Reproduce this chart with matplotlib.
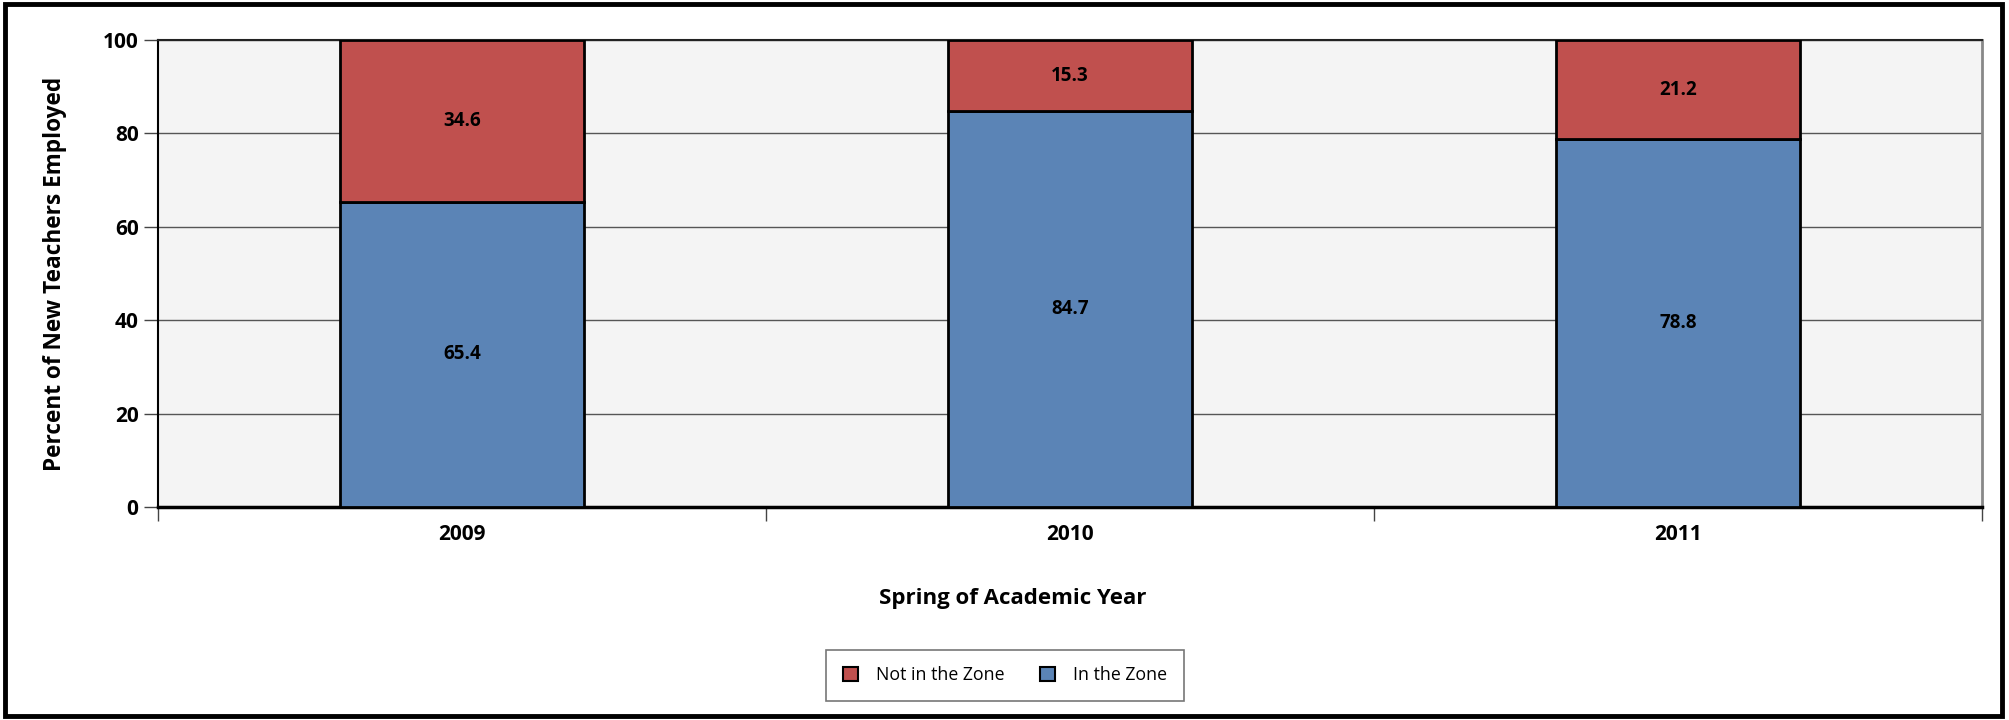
import matplotlib.pyplot as plt
from matplotlib.patches import Rectangle, Patch

# 数据
years = ['2009', '2010', '2011']
in_zone = [65.4, 84.7, 78.8]
not_in_zone = [34.6, 15.3, 21.2]

blue = '#5B84B6'
red = '#C0504E'

plt.rcParams['font.family'] = ['Open Sans', 'DejaVu Sans']

fig = plt.figure(figsize=(20.09, 7.2), dpi=100)
ax = fig.add_axes([158 / 2009, 1 - 507 / 720, 1824 / 2009, 467 / 720])
ax.set_facecolor('#F4F4F4')

x = range(len(years))
ax.bar(x, in_zone, width=0.4, color=blue, edgecolor='black', linewidth=2, zorder=3)
ax.bar(x, not_in_zone, width=0.4, bottom=in_zone, color=red, edgecolor='black', linewidth=2, zorder=3)

# 数据标签
for i in x:
    ax.text(i, in_zone[i] / 2, f'{in_zone[i]:.1f}', ha='center', va='center',
            fontsize=13.5, fontweight='bold', zorder=4)
    ax.text(i, in_zone[i] + not_in_zone[i] / 2, f'{not_in_zone[i]:.1f}', ha='center', va='center',
            fontsize=13.5, fontweight='bold', zorder=4)

ax.set_xlim(-0.5, len(years) - 0.5)
ax.set_ylim(0, 100)
ax.set_yticks([0, 20, 40, 60, 80, 100])
ax.yaxis.grid(True, color='#555555', linewidth=1, zorder=0)
ax.set_axisbelow(True)

ax.set_xticks(list(x))
ax.set_xticklabels(years, fontsize=15, fontweight='bold')
ax.tick_params(axis='x', length=0, pad=12)
ax.set_xticks([-0.5, 0.5, 1.5, 2.5], minor=True)
ax.tick_params(axis='x', which='minor', length=10, width=1, color='#444444', direction='out')
ax.tick_params(axis='y', length=10, width=1, color='#444444', labelsize=15, pad=4)
for lbl in ax.get_yticklabels():
    lbl.set_fontweight('bold')

ax.spines['left'].set_linewidth(1.5)
ax.spines['bottom'].set_linewidth(2.5)
ax.spines['top'].set_color('#222222')
ax.spines['top'].set_linewidth(1.5)
ax.spines['right'].set_color('#888888')
ax.spines['right'].set_linewidth(2)

ax.set_ylabel('Percent of New Teachers Employed', fontsize=16.3, fontweight='bold')
ax.yaxis.set_label_coords((67 - 158) / 1824, 0.5)
ax.set_xlabel('Spring of Academic Year', fontsize=16, fontweight='bold')
ax.xaxis.set_label_coords((1013 - 158) / 1824, (507 - 588) / 467)

handles = [Patch(facecolor=red, edgecolor='black', linewidth=1.5),
           Patch(facecolor=blue, edgecolor='black', linewidth=1.5)]
leg = fig.legend(handles, ['Not in the Zone', 'In the Zone'], loc='center',
                 bbox_to_anchor=(1005 / 2009, 1 - 675.5 / 720), ncol=2, fontsize=12.8,
                 fancybox=False, edgecolor='#777777', framealpha=1,
                 handlelength=0.85, handleheight=0.85, columnspacing=2.0,
                 borderpad=0.95, handletextpad=1.0)
leg.get_frame().set_linewidth(1.2)

# 外框
fig.patches.append(Rectangle((5 / 2009, 4 / 720), 1997 / 2009, 712 / 720, transform=fig.transFigure,
                             fill=False, edgecolor='black', linewidth=3.5))

fig.savefig('out.png', dpi=100)
